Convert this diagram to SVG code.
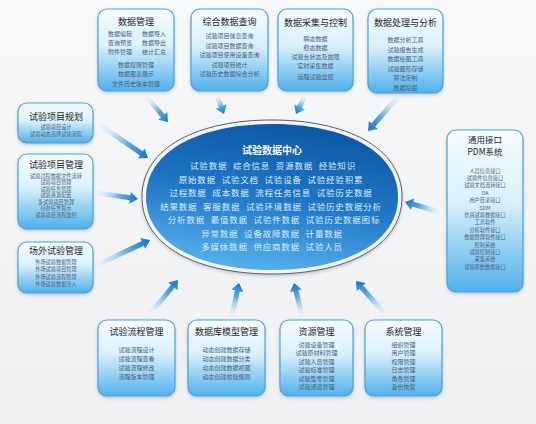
<svg xmlns="http://www.w3.org/2000/svg" width="536" height="424" viewBox="0 0 536 424">
<defs>
<linearGradient id="bg" x1="0" y1="0" x2="0" y2="1"><stop offset="0" stop-color="#f7f8f9"/><stop offset="1" stop-color="#eef0f2"/></linearGradient>
<linearGradient id="box" x1="0" y1="0" x2="0" y2="1"><stop offset="0" stop-color="#f6fcff"/><stop offset="0.45" stop-color="#d9f0fc"/><stop offset="1" stop-color="#4fb0ea"/></linearGradient>
<linearGradient id="ell" x1="0.6" y1="0" x2="0.35" y2="1"><stop offset="0" stop-color="#0d57a6"/><stop offset="0.5" stop-color="#1f77c6"/><stop offset="1" stop-color="#58b2ec"/></linearGradient>
<linearGradient id="ag" x1="0" y1="0" x2="1" y2="0"><stop offset="0" stop-color="#d6eaf8" stop-opacity="0.15"/><stop offset="0.6" stop-color="#5aa6e2"/><stop offset="1" stop-color="#1a74c8"/></linearGradient>
<filter id="sh" x="-10%" y="-10%" width="120%" height="125%"><feDropShadow dx="0" dy="1.5" stdDeviation="1.5" flood-color="#557" flood-opacity="0.3"/></filter>
</defs>
<style>
.bx{fill:url(#box);stroke:#46a3e2;stroke-width:1.2;filter:url(#sh)}
.t{font-family:"Noto Sans CJK SC","Noto Sans",sans-serif;font-size:9px;fill:#1c2634;text-anchor:middle;dominant-baseline:central}
.i{font-family:"Noto Sans CJK SC","Noto Sans",sans-serif;font-size:6px;fill:#4a607a;text-anchor:middle;dominant-baseline:central}
.s{font-size:5.2px}
.ar{fill:url(#ag)}
.ct{font-family:"Noto Sans CJK SC","Noto Sans",sans-serif;font-size:8.5px;fill:#d8ecff;text-anchor:middle;letter-spacing:0.8px;word-spacing:3px;dominant-baseline:central}
.ch{font-family:"Noto Sans CJK SC","Noto Sans",sans-serif;font-size:10px;font-weight:bold;fill:#ffffff;text-anchor:middle;dominant-baseline:central}
</style>
<rect width="536" height="424" fill="url(#bg)"/>

<g id="connectors">
<path class="ar" transform="translate(147,97) rotate(50)" d="M0,-2.5H24.6V-6L32.6,0L24.6,6V2.5H0Z"/>
<path class="ar" transform="translate(217,96) rotate(68.7)" d="M0,-2.5H11.3V-6L19.3,0L11.3,6V2.5H0Z"/>
<path class="ar" transform="translate(305,96) rotate(116.6)" d="M0,-2.5H12.1V-6L20.1,0L12.1,6V2.5H0Z"/>
<path class="ar" transform="translate(398,97) rotate(131.4)" d="M0,-2.5H37.3V-6L45.3,0L37.3,6V2.5H0Z"/>
<path class="ar" transform="translate(100,125) rotate(34.5)" d="M0,-2.5H50.2V-6L58.2,0L50.2,6V2.5H0Z"/>
<path class="ar" transform="translate(97,193) rotate(8.3)" d="M0,-2.5H33.4V-6L41.4,0L33.4,6V2.5H0Z"/>
<path class="ar" transform="translate(97,265) rotate(-25.3)" d="M0,-2.5H50.6V-6L58.6,0L50.6,6V2.5H0Z"/>
<path class="ar" transform="translate(440,212) rotate(196)" d="M0,-2.5H28.4V-6L36.4,0L28.4,6V2.5H0Z"/>
<path class="ar" transform="translate(150,314) rotate(-50.5)" d="M0,-2.5H36V-6L44,0L36,6V2.5H0Z"/>
<path class="ar" transform="translate(232,316) rotate(-78)" d="M0,-2.5H25.7V-6L33.7,0L25.7,6V2.5H0Z"/>
<path class="ar" transform="translate(302,316) rotate(-103.6)" d="M0,-2.5H26V-6L34,0L26,6V2.5H0Z"/>
<path class="ar" transform="translate(385,314) rotate(-131.3)" d="M0,-2.5H35.9V-6L43.9,0L35.9,6V2.5H0Z"/>
</g>

<g id="center">
<path d="M142,197C142,146.2 200.2,120 272,120C343.8,120 402,146.2 402,197C402,247.8 343.8,274 272,274C200.2,274 142,247.8 142,197Z" fill="#f2f4f6" stroke="#5a5f66" stroke-width="1" filter="url(#sh)"/>
<path d="M146,197C146,149.2 202.5,124 272,124C341.5,124 398,149.2 398,197C398,244.8 341.5,270 272,270C202.5,270 146,244.8 146,197Z" fill="url(#ell)"/>
<text class="ch" x="272" y="149">试验数据中心</text>
<text class="ct" x="273" y="165">试验数据 综合信息 资源数据 经验知识</text>
<text class="ct" x="271" y="178.5">原始数据 试验文档 试验设备 试验经验积累</text>
<text class="ct" x="271" y="192">过程数据 成本数据 流程任务信息 试验历史数据</text>
<text class="ct" x="271" y="205.5">结果数据 客服数据 试验环境数据 试验历史数据分析</text>
<text class="ct" x="274" y="219">分析数据 最值数据 试验件数据 试验历史数据图标</text>
<text class="ct" x="272" y="232.5">异常数据 设备故障数据 计量数据</text>
<text class="ct" x="272" y="246">多媒体数据 供应商数据 试验人员</text>
</g>

<g id="n-sjgl">
<rect class="bx" x="98" y="9" width="76" height="82" rx="9"/>
<text class="t" x="136" y="21">数据管理</text>
<text class="i" x="120" y="33">数据编辑</text><text class="i" x="154" y="33">数据导入</text>
<text class="i" x="120" y="42">查询预览</text><text class="i" x="154" y="42">数据导出</text>
<text class="i" x="120" y="51">附件管理</text><text class="i" x="154" y="51">统计汇总</text>
<text class="i" x="136" y="64">数据权限管理</text>
<text class="i" x="136" y="73.5">数据图表展示</text>
<text class="i" x="136" y="83">文件历史版本管理</text>
</g>

<g id="n-zhcx">
<rect class="bx" x="191" y="9" width="77" height="82" rx="9"/>
<text class="t" x="229.5" y="21">综合数据查询</text>
<text class="i" x="229.5" y="35.5">试验项目信息查询</text>
<text class="i" x="229.5" y="45">试验项目数据查询</text>
<text class="i" x="229.5" y="54.5">试验项目使用设备查询</text>
<text class="i" x="229.5" y="64">试验项目统计</text>
<text class="i" x="229.5" y="73.5">试验历史数据综合分析</text>
</g>

<g id="n-cjkz">
<rect class="bx" x="278" y="9" width="75" height="82" rx="9"/>
<text class="t" x="315.5" y="22">数据采集与控制</text>
<text class="i" x="315.5" y="38.5">瞬态数据</text>
<text class="i" x="315.5" y="47.5">稳态数据</text>
<text class="i" x="315.5" y="56.5">试验台状态及故障</text>
<text class="i" x="315.5" y="65.5">实时采集数据</text>
<text class="i" x="315.5" y="76">远程试验监控</text>
</g>

<g id="n-clfx">
<rect class="bx" x="368" y="9" width="75" height="84" rx="9"/>
<text class="t" x="405.5" y="22">数据处理与分析</text>
<text class="i" x="405.5" y="39.5">数据分析工具</text>
<text class="i" x="405.5" y="49">试验报告生成</text>
<text class="i" x="405.5" y="58.5">数据绘图工具</text>
<text class="i" x="405.5" y="68">试验图形存储</text>
<text class="i" x="405.5" y="77.5">算法定制</text>
<text class="i" x="405.5" y="87">数据挖掘</text>
</g>

<g id="n-xmgh">
<rect class="bx" x="18" y="103" width="75" height="40" rx="9"/>
<text class="t" x="56" y="116">试验项目规划</text>
<text class="i s" x="56" y="126.5">试验项目设计</text>
<text class="i s" x="56" y="133.5">试验动态选择试验流程</text>
</g>

<g id="n-xmgl">
<rect class="bx" x="18" y="154" width="75" height="75" rx="9"/>
<text class="t" x="56" y="164">试验项目管理</text>
<text class="i s" x="56" y="175">试验过程数据文件流转</text>
<text class="i s" x="56" y="181.5">试验项目管理</text>
<text class="i s" x="56" y="188">试验任务管理</text>
<text class="i s" x="56" y="194.5">试验资源配置</text>
<text class="i s" x="56" y="201">多试验项目管理</text>
<text class="i s" x="56" y="207.5">待办任务提示</text>
<text class="i s" x="56" y="214">试验项目流程监控</text>
</g>

<g id="n-cwsy">
<rect class="bx" x="18" y="242" width="75" height="51" rx="9"/>
<text class="t" x="56" y="250">场外试验管理</text>
<text class="i s" x="56" y="261">外场试验数据管理</text>
<text class="i s" x="56" y="268.5">外场试验项目管理</text>
<text class="i s" x="56" y="276">外场试验流程管理</text>
<text class="i s" x="56" y="283.5">外场试验数据导入</text>
</g>

<g id="n-jk">
<rect class="bx" x="447" y="130" width="76" height="162" rx="9"/>
<text class="t" x="485" y="139" style="font-size:8.5px">通用接口</text>
<text class="t" x="485" y="151" style="font-size:8.5px">PDM系统</text>
<text class="i s" x="485" y="170">人员信息接口</text>
<text class="i s" x="485" y="177.4">试验件信息接口</text>
<text class="i s" x="485" y="184.8">试验文档流转接口</text>
<text class="i s" x="485" y="192.2">OA</text>
<text class="i s" x="485" y="199.6">用户目录接口</text>
<text class="i s" x="485" y="207">SDM</text>
<text class="i s" x="485" y="214.4">仿真试验数据接口</text>
<text class="i s" x="485" y="221.8">工具软件</text>
<text class="i s" x="485" y="229.2">分析软件接口</text>
<text class="i s" x="485" y="236.6">数据管理软件接口</text>
<text class="i s" x="485" y="244">控制系统</text>
<text class="i s" x="485" y="251.4">试验控制接口</text>
<text class="i s" x="485" y="258.8">采集系统</text>
<text class="i s" x="485" y="266.2">试验原始数据接口</text>
</g>

<g id="n-lcgl">
<rect class="bx" x="98" y="320" width="77" height="76" rx="9"/>
<text class="t" x="136.5" y="331">试验流程管理</text>
<text class="i" x="136.5" y="349">试验流程设计</text>
<text class="i" x="136.5" y="358">试验流程查看</text>
<text class="i" x="136.5" y="367">试验流程修改</text>
<text class="i" x="136.5" y="376">流程版本管理</text>
</g>

<g id="n-mxgl">
<rect class="bx" x="188" y="320" width="77" height="76" rx="9"/>
<text class="t" x="226.5" y="331">数据库模型管理</text>
<text class="i" x="226.5" y="349">动态创建数据存储</text>
<text class="i" x="226.5" y="358">动态创建数据分类</text>
<text class="i" x="226.5" y="367">动态创建数据视图</text>
<text class="i" x="226.5" y="376">动态创建校验规则</text>
</g>

<g id="n-zygl">
<rect class="bx" x="280" y="320" width="73" height="76" rx="9"/>
<text class="t" x="316.5" y="331">资源管理</text>
<text class="i" x="316.5" y="344">试验设备管理</text>
<text class="i" x="316.5" y="352.5">试验原材料管理</text>
<text class="i" x="316.5" y="361">试验人员管理</text>
<text class="i" x="316.5" y="369.5">试验标准管理</text>
<text class="i" x="316.5" y="378">试验型号管理</text>
<text class="i" x="316.5" y="386.5">试验通道管理</text>
</g>

<g id="n-xtgl">
<rect class="bx" x="365" y="320" width="77" height="76" rx="9"/>
<text class="t" x="403.5" y="331">系统管理</text>
<text class="i" x="403.5" y="344">组织管理</text>
<text class="i" x="403.5" y="352.5">用户管理</text>
<text class="i" x="403.5" y="361">权限管理</text>
<text class="i" x="403.5" y="369.5">日志管理</text>
<text class="i" x="403.5" y="378">角色管理</text>
<text class="i" x="403.5" y="386.5">备份恢复</text>
</g>
</svg>
